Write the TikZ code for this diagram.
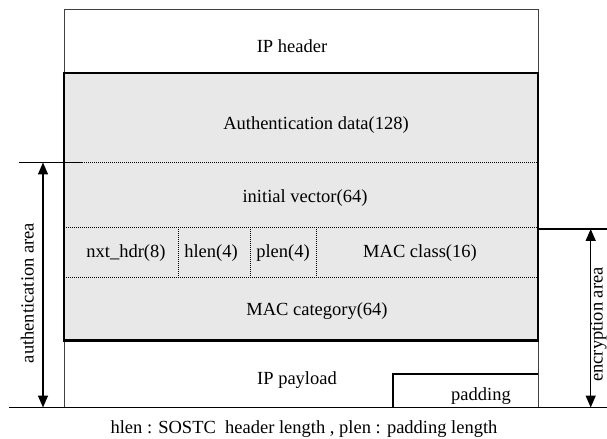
\documentclass[tikz,border=0pt]{standalone}
\usepackage{fontspec}
\setmainfont{Liberation Serif}
\usetikzlibrary{arrows.meta}
\definecolor{boxgray}{HTML}{E8E8E8}
\begin{document}
\begin{tikzpicture}[x=1bp,y=-1bp,
  lbl/.style={anchor=base,inner sep=0pt,font=\fontsize{18.5bp}{22bp}\selectfont},
  thinline/.style={draw=black!75,line width=0.9bp},
  dotline/.style={line width=0.9bp,dash pattern=on 1bp off 1bp},
  greybox/.style={draw=black,line width=2.2bp,fill=boxgray},
  dimarrow/.style={line width=1.4bp,{Triangle[length=12bp,width=10bp]}-{Triangle[length=12bp,width=10bp]}},
  extline/.style={line width=1.2bp}]
\useasboundingbox (0,0) rectangle (607,439);
% outer frame
\draw[thinline] (64,407.5) -- (64,9) -- (538,9) -- (538,407.5);
% grey area
\draw[greybox] (64,73) rectangle (538,340.5);
% row separators
\draw[dotline] (64,162.5) -- (538,162.5);
\draw[dotline] (64,227.5) -- (538,227.5);
\draw[dotline] (64,277.5) -- (538,277.5);
\draw[dotline] (178,227.5) -- (178,277.5);
\draw[dotline] (250,227.5) -- (250,277.5);
\draw[dotline] (316,227.5) -- (316,277.5);
% padding box
\draw[line width=1.4bp] (393,407.5) -- (393,374) -- (538,374);
% texts
\node[lbl] (iph) at (292,52.5) {IP header};
\node[lbl] (auth) at (316,130) {Authentication data(128)};
\node[lbl] (iv) at (305,202.5) {initial vector(64)};
\node[lbl] (nxt) at (126,258) {nxt\_hdr(8)};
\node[lbl] (hlen) at (211,258) {hlen(4)};
\node[lbl] (plen) at (283,258) {plen(4)};
\node[lbl] (macc) at (420,258) {MAC class(16)};
\node[lbl] (maccat) at (317,315) {MAC category(64)};
\node[lbl] (ipp) at (297,384) {IP payload};
\node[lbl] (pad) at (481,400) {padding};
\node[lbl] (cap) at (304,433) {hlen : SOSTC\ \ header length , plen : padding length};
% extension lines
\coordinate (aL) at (19,162.5);
\coordinate (aR) at (83,162.5);
\coordinate (eL) at (538,229);
\coordinate (eR) at (607,229);
\coordinate (bL) at (9,407.5);
\coordinate (bR) at (607,407.5);
\draw[extline] (aL) -- (aR);
\draw[extline] (eL) -- (eR);
\draw[extline] (bL) -- (bR);
% dimension arrows
\coordinate (at) at (43,162.5);
\coordinate (ab) at (43,407.5);
\coordinate (et) at (590.7,229);
\coordinate (eb) at (590.7,407.5);
\draw[dimarrow] (at) -- (ab);
\draw[dimarrow] (et) -- (eb);
\node[lbl,rotate=90] (authA) at (33.5,293) {authentication area};
\node[lbl,rotate=90] (encA) at (602.5,324.5) {encryption area};
\end{tikzpicture}
\end{document}
